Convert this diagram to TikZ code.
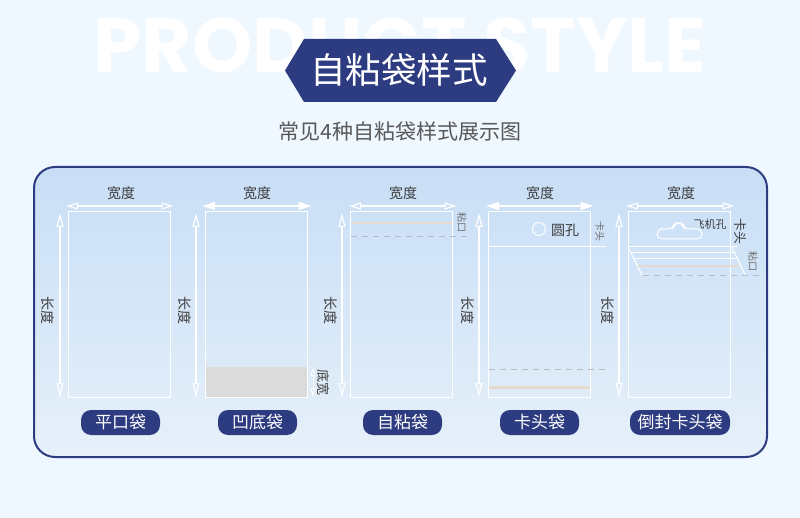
\documentclass[tikz,border=0pt]{standalone}
\usepackage{fontspec}
\setmainfont{Noto Sans CJK SC}
\newfontfamily\latinbold[Scale=1]{Poppins Bold}
\usetikzlibrary{arrows.meta,calc}
\definecolor{navy}{HTML}{2D3B80}
\definecolor{pagebg}{HTML}{EFF7FF}
\definecolor{paneltop}{HTML}{C8DEF6}
\definecolor{panelbot}{HTML}{E6F0F9}
\definecolor{labelgray}{HTML}{3C3C3C}
\definecolor{tanline}{HTML}{E6DAD0}
\definecolor{dashgray}{HTML}{B8BDC4}
\tikzset{
  bag/.style={draw=white,line width=1pt,outer sep=0pt,minimum width=102.5pt,minimum height=185pt,inner sep=0pt,anchor=north west},
  pill/.style={fill=navy,text=white,rounded corners=10pt,minimum height=25pt,inner sep=0pt,font=\fontsize{17}{17}\selectfont},
  lab/.style={text=labelgray,inner sep=0pt,font=\fontsize{14}{14}\selectfont},
  vlab/.style={lab,rotate=-90},
  small/.style={text=labelgray!75!white,inner sep=0pt,rotate=-90,font=\fontsize{10}{10}\selectfont},
  openarrow/.style={draw=white,line width=1.2pt,{Triangle[open,length=12pt,width=7pt,fill=none]}-{Triangle[open,length=12pt,width=7pt,fill=none]}},
  fillarrow/.style={draw=white,line width=1.2pt,{Triangle[length=13pt,width=8pt,fill=white]}-{Triangle[length=13pt,width=8pt,fill=white]}},
  tall/.style={draw=white,line width=1.2pt,{Triangle[open,length=14pt,width=7pt,fill=none]}-{Triangle[open,length=14pt,width=7pt,fill=none]}},
  seal/.style={draw=tanline,line width=2pt},
  dashline/.style={draw=dashgray,line width=.9pt,dash pattern=on 6pt off 5pt},
  thin white/.style={draw=white,line width=1pt}
}
\begin{document}
\begin{tikzpicture}[x=1pt,y=-1pt]
\useasboundingbox (0,0) rectangle (800,518);
\fill[pagebg] (0,0) rectangle (800,518);
\node[inner sep=0pt,text=white,font=\latinbold\fontsize{77}{77}\selectfont] (bgword) at (400,45) {PRODUCT STYLE};
% title
\fill[navy] (285,70.5) -- (304,39) -- (496,39) -- (516,70.5) -- (496,102) -- (304,102) -- cycle;
\node[inner sep=0pt,text=white,font=\fontsize{35.5}{36}\selectfont] (title) at (399,70) {自粘袋样式};
\node[inner sep=0pt,text=labelgray!85!white,font=\fontsize{21}{21}\selectfont] (subtitle) at (400,132) {常见4种自粘袋样式展示图};
% panel
\node[draw=navy,line width=2pt,outer sep=0pt,rounded corners=21pt,top color=paneltop,bottom color=panelbot,minimum width=733pt,minimum height=290pt,inner sep=0pt,anchor=north west] (panel) at (34,167) {};
% bags
\fill[gray!28!white] (205,367) rectangle (307,397);
\node[bag] (b1) at (68,212) {};
\node[bag] (b2) at (205,212) {};
\node[bag] (b3) at (350,212) {};
\node[bag] (b4) at (488,212) {};
\node[bag] (b5) at (628,212) {};
% width arrows and labels
\draw[openarrow] ($(b1.north west)+(-2,-6)$) -- ($(b1.north east)+(3,-6)$);
\draw[fillarrow] ($(b2.north west)+(-3,-6)$) -- ($(b2.north east)+(4,-6)$);
\draw[openarrow] ($(b3.north west)+(-1,-6)$) -- ($(b3.north east)+(4,-6)$);
\draw[fillarrow] ($(b4.north west)+(-2,-6)$) -- ($(b4.north east)+(3,-6)$);
\draw[openarrow] ($(b5.north west)+(-2,-6)$) -- ($(b5.north east)+(4,-6)$);
\node[lab] (w1) at (121,193) {宽度};
\node[lab] (w2) at (257,193) {宽度};
\node[lab] (w3) at (403,193) {宽度};
\node[lab] (w4) at (540,193) {宽度};
\node[lab] (w5) at (681,193) {宽度};
% length arrows and labels
\draw[tall] ($(b1.north west)+(-8,1)$) -- ($(b1.south west)+(-8,0)$);
\draw[tall] ($(b2.north west)+(-9,1)$) -- ($(b2.south west)+(-9,0)$);
\draw[tall] ($(b3.north west)+(-8,1)$) -- ($(b3.south west)+(-8,0)$);
\draw[tall] ($(b4.north west)+(-9,1)$) -- ($(b4.south west)+(-9,0)$);
\draw[tall] ($(b5.north west)+(-9,1)$) -- ($(b5.south west)+(-9,0)$);
\node[vlab] (l1) at (47.5,311) {长度};
\node[vlab] (l2) at (184.5,311) {长度};
\node[vlab] (l3) at (330.5,311) {长度};
\node[vlab] (l4) at (467.5,311) {长度};
\node[vlab] (l5) at (607.5,311) {长度};
% bag 2 bottom
\coordinate (g1) at (313,367);
\coordinate (g2) at (313,397);
\draw[draw=white,line width=.9pt,{Triangle[open,length=9pt,width=5pt,fill=none]}-{Triangle[open,length=9pt,width=5pt,fill=none]}] (g1) -- (g2);
\node[vlab,font=\fontsize{13}{13}\selectfont] (dk) at (323,383) {底宽};
% bag 3
\draw[seal] (352,223) -- (452,223);
\draw[dashline] (351,236) -- (470,236);
\node[small] (n3) at (462,223) {粘口};
% bag 4
\node[draw=white,line width=1pt,circle,minimum size=13pt,inner sep=0pt] (hole) at (539,229) {};
\node[lab] (holelab) at (565,230) {圆孔};
\draw[thin white] (488,247) -- (606,247);
\node[small] (n4) at (600,232) {卡头};
\draw[dashline] (489,369) -- (606,369);
\draw[seal,line width=3pt] (489,387) -- (590,387);
% bag 5
\draw[thin white,rounded corners=4.8pt] (665,229) -- (673,229) -- (674.5,223) -- (682.5,223) -- (684,229) -- (702,229) -- (702,239) -- (657,239) -- (657,229) -- cycle;
\node[lab,font=\fontsize{11}{11}\selectfont] (plane) at (710,224) {飞机孔};
\node[vlab,font=\fontsize{13}{13}\selectfont] (n5) at (740,232) {卡头};
\draw[thin white] (628,247) -- (737,247);
\draw[thin white] (628,247) -- (642,275);
\draw[thin white] (732,247) -- (745,275);
\draw[thin white] (631,253) -- (735,253);
\draw[thin white] (634,258.5) -- (738,258.5);
\draw[seal] (638,266.5) -- (739,266.5);
\draw[dashline] (643,275.5) -- (760,275.5);
\node[small] (n5b) at (753,262) {粘口};
% pills
\node[pill,minimum width=79pt] (p1) at (120.5,422.5) {平口袋};
\node[pill,minimum width=79pt] (p2) at (257.5,422.5) {凹底袋};
\node[pill,minimum width=79pt] (p3) at (402.5,422.5) {自粘袋};
\node[pill,minimum width=79pt] (p4) at (539.5,422.5) {卡头袋};
\node[pill,minimum width=100pt] (p5) at (680,422.5) {倒封卡头袋};
\end{tikzpicture}
\end{document}
